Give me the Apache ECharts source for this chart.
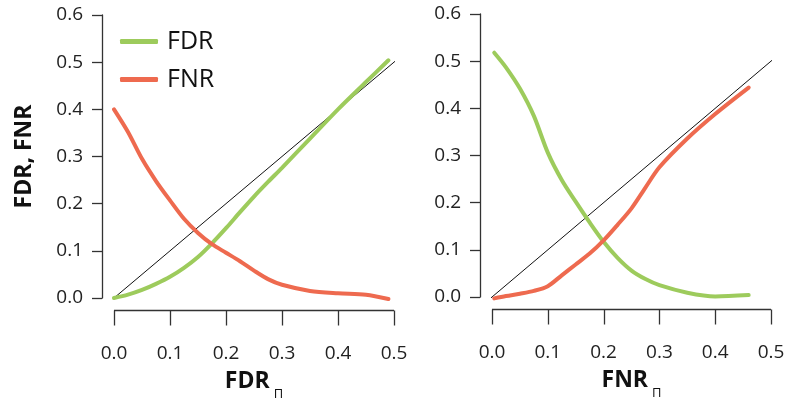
<!DOCTYPE html>
<html>
<head>
<meta charset="utf-8">
<script src="https://cdn.jsdelivr.net/npm/echarts@6/dist/echarts.min.js"></script>
<style>
html,body{margin:0;padding:0;background:#fff;}
#chart{width:788px;height:405px;}
</style>
</head>
<body>
<div id="chart"></div>
<script>
// ---- data ----
var seriesNames = ['FDR', 'FNR'];
var xTicks = [0, 0.1, 0.2, 0.3, 0.4, 0.5];
var yTicks = [0, 0.1, 0.2, 0.3, 0.4, 0.5, 0.6];
var diagonal = [-0.02, 0.52];

// left panel: x = FDR_Pi
var leftX = [0, 0.025, 0.05, 0.075, 0.1, 0.125, 0.15, 0.175, 0.2, 0.225, 0.25, 0.275, 0.3, 0.35, 0.4, 0.45, 0.49];
var leftFDR = [0, 0.007, 0.017, 0.03, 0.045, 0.064, 0.087, 0.116, 0.148, 0.182, 0.215, 0.246, 0.276, 0.338, 0.4, 0.458, 0.504];
var leftFNR = [0.40, 0.352, 0.295, 0.248, 0.207, 0.168, 0.138, 0.114, 0.096, 0.078, 0.058, 0.04, 0.028, 0.015, 0.01, 0.007, -0.002];

// right panel: x = FNR_Pi
var rightX = [0.004, 0.025, 0.05, 0.075, 0.1, 0.125, 0.15, 0.175, 0.2, 0.225, 0.25, 0.275, 0.3, 0.35, 0.4, 0.46];
var rightFDR = [0.518, 0.487, 0.442, 0.384, 0.306, 0.248, 0.202, 0.158, 0.117, 0.083, 0.056, 0.038, 0.025, 0.009, 0.001, 0.004];
var rightFNR = [-0.003, 0.002, 0.007, 0.013, 0.023, 0.046, 0.069, 0.092, 0.12, 0.153, 0.188, 0.232, 0.275, 0.336, 0.388, 0.444];

var colors = {FDR: '#9dcb5c', FNR: '#ee6a4f'};
var FONT = '"Open Sans", "Noto Sans", sans-serif';
var AXIS_COLOR = '#333';

function pairs(xs, ys) { return xs.map(function (x, i) { return [x, ys[i]]; }); }

var chart = echarts.init(document.getElementById('chart'), null, {renderer: 'canvas'});

function ls() { return {color: AXIS_COLOR, width: 1.3}; }

function xAxisDef(idx, title) {
  return {
    type: 'value', gridIndex: idx, position: 'bottom',
    min: xTicks[0], max: xTicks[xTicks.length - 1], interval: 0.1,
    offset: 12,
    axisLine: {show: false, onZero: false},
    axisTick: {show: false},
    splitLine: {show: false},
    axisLabel: {show: true, margin: 34, fontSize: 19, color: '#222', fontFamily: FONT,
      formatter: function (v) { return v.toFixed(1); }},
    name: '{a|' + title + '}{s|Π}',
    nameLocation: 'middle', nameGap: 60,
    nameTextStyle: {
      rich: {
        a: {fontSize: 23, fontWeight: 'bold', color: '#111', fontFamily: FONT, lineHeight: 23, verticalAlign: 'top'},
        s: {fontSize: 13, color: '#111', fontFamily: FONT, lineHeight: 13, verticalAlign: 'top', padding: [18, 0, 0, 4]}
      }
    }
  };
}
function yAxisDef(idx, withName) {
  var a = {
    type: 'value', gridIndex: idx, position: 'left',
    min: yTicks[0], max: yTicks[yTicks.length - 1], interval: 0.1,
    offset: 12,
    axisLine: {show: true, onZero: false, lineStyle: ls()},
    axisTick: {show: true, length: 10, lineStyle: ls()},
    splitLine: {show: false},
    axisLabel: {show: true, margin: 19, fontSize: 19, color: '#222', fontFamily: FONT,
      formatter: function (v) { return v.toFixed(1); }}
  };
  if (withName) {
    a.name = 'FDR, FNR';
    a.nameLocation = 'middle';
    a.nameGap = 66;
    a.nameTextStyle = {fontSize: 23, fontWeight: 'bold', color: '#111', fontFamily: FONT};
  }
  return a;
}

function lineSeries(name, idx, data) {
  return {
    name: name, type: 'line', xAxisIndex: idx, yAxisIndex: idx, data: data,
    smooth: 0.3, showSymbol: false, symbol: 'none', clip: false,
    lineStyle: {color: colors[name], width: 4, cap: 'round'},
    itemStyle: {color: colors[name]},
    z: 3
  };
}
function diagSeries(idx) {
  return {
    name: 'diag', type: 'line', xAxisIndex: idx, yAxisIndex: idx,
    data: [[diagonal[0], diagonal[0]], [diagonal[1], diagonal[1]]],
    showSymbol: false, symbol: 'none', clip: false, silent: true,
    lineStyle: {color: '#111', width: 1}, z: 2
  };
}

chart.setOption({
  animation: false,
  backgroundColor: '#fff',
  textStyle: {fontFamily: FONT},
  grid: [
    {left: 114, top: 15, width: 280, height: 283, containLabel: false, outerBoundsMode: 'none'},
    {left: 492, top: 14, width: 279, height: 283, containLabel: false, outerBoundsMode: 'none'}
  ],
  legend: {
    data: seriesNames,
    orient: 'vertical', left: 115, top: 24,
    icon: 'roundRect', itemWidth: 38, itemHeight: 5, itemGap: 13,
    textStyle: {fontSize: 25, color: '#111', fontFamily: FONT, padding: [0, 0, 0, 4]}
  },
  xAxis: [xAxisDef(0, 'FDR'), xAxisDef(1, 'FNR')],
  yAxis: [yAxisDef(0, true), yAxisDef(1, false)],
  series: [
    diagSeries(0), diagSeries(1),
    lineSeries('FDR', 0, pairs(leftX, leftFDR)),
    lineSeries('FNR', 0, pairs(leftX, leftFNR)),
    lineSeries('FDR', 1, pairs(rightX, rightFDR)),
    lineSeries('FNR', 1, pairs(rightX, rightFNR))
  ]
});

// x-axis baseline and tick marks, placed through the chart's own x scale
var X_OFFSET = 12, TICK_LEN = 15;
var graphics = [];
[0, 1].forEach(function (i) {
  var finder = {xAxisIndex: i, yAxisIndex: i};
  var p0 = chart.convertToPixel(finder, [xTicks[0], yTicks[0]]);
  var p1 = chart.convertToPixel(finder, [xTicks[xTicks.length - 1], yTicks[0]]);
  var yLine = Math.round(p0[1] + X_OFFSET) + 0.5;
  graphics.push({
    type: 'line', silent: true, z: 10,
    shape: {x1: p0[0], y1: yLine, x2: p1[0], y2: yLine},
    style: {stroke: AXIS_COLOR, lineWidth: 1.3}
  });
  xTicks.forEach(function (t) {
    var px = Math.round(chart.convertToPixel(finder, [t, yTicks[0]])[0]) + 0.5;
    graphics.push({
      type: 'line', silent: true, z: 10,
      shape: {x1: px, y1: yLine, x2: px, y2: yLine + TICK_LEN},
      style: {stroke: AXIS_COLOR, lineWidth: 1.3}
    });
  });
});
chart.setOption({graphic: graphics});
</script>
</body>
</html>
